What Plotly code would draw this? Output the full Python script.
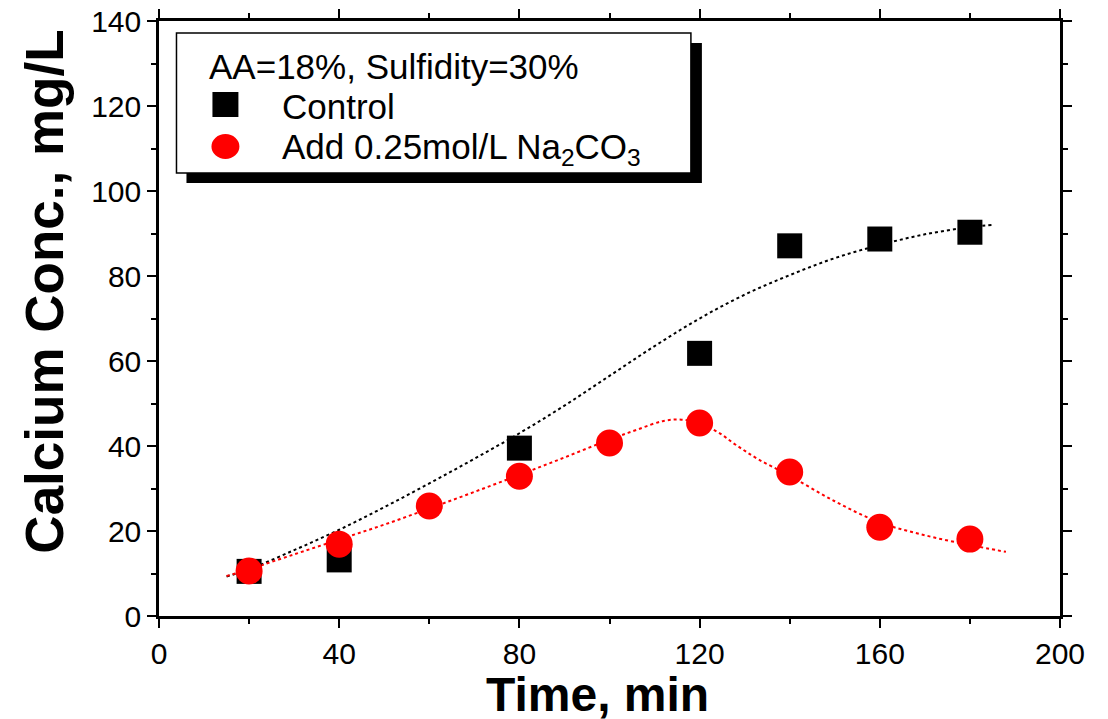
import plotly.graph_objects as go

# ---- data ----
time_control = [20, 40, 80, 120, 140, 160, 180]
conc_control = [10.5, 13.2, 39.5, 61.8, 87.1, 88.7, 90.3]

time_na2co3 = [20, 40, 60, 80, 100, 120, 140, 160, 180]
conc_na2co3 = [10.6, 16.9, 25.9, 32.9, 40.7, 45.4, 33.9, 20.9, 18.1]

fit_control_x = [15, 20, 30, 40, 50, 60, 70, 80, 90, 100, 110, 120, 130, 140, 150, 160, 170, 180, 185]
fit_control_y = [9.3, 11.0, 15.5, 20.3, 25.6, 31.2, 37.0, 43.0, 49.5, 56.5, 63.5, 70.0, 75.6, 80.2, 84.2, 87.3, 89.8, 91.5, 92.0]

fit_na2co3_x = [15, 20, 30, 40, 50, 60, 70, 80, 90, 100, 106, 112, 116, 120, 124, 128, 133, 140, 150, 160, 170, 180, 188]
fit_na2co3_y = [9.4, 11.0, 14.5, 18.0, 21.5, 25.3, 29.2, 33.2, 37.3, 41.5, 43.8, 45.9, 46.2, 45.3, 43.3, 40.3, 36.9, 33.0, 27.0, 22.0, 19.0, 16.7, 15.1]

x_ticks = [0, 40, 80, 120, 160, 200]
y_ticks = [0, 20, 40, 60, 80, 100, 120, 140]

legend_title = "AA=18%, Sulfidity=30%"
legend_names = ["Control", "Add 0.25mol/L Na<sub>2</sub>CO<sub>3</sub>"]

# ---- layout geometry (target pixels in the screenshot) ----
OFF = 8  # page body margin
W, H = 1108 - OFF, 719 - OFF
L, R, T, B = 158.5, 1060.5, 21, 616
FONT = "Arial, Liberation Sans, sans-serif"


def px(x):
    return (x - L) / (R - L)


def py(y):
    return (B - y) / (B - T)


fig = go.Figure()

fig.add_trace(go.Scatter(x=fit_control_x, y=fit_control_y, mode="lines",
                         line=dict(color="black", width=2, dash="dot", shape="spline"),
                         showlegend=False, hoverinfo="skip"))
fig.add_trace(go.Scatter(x=fit_na2co3_x, y=fit_na2co3_y, mode="lines",
                         line=dict(color="#ff0000", width=2, dash="dot", shape="spline"),
                         showlegend=False, hoverinfo="skip"))
fig.add_trace(go.Scatter(x=time_control, y=conc_control, mode="markers", name="Control",
                         marker=dict(symbol="square", size=25, color="black", line=dict(width=0)),
                         showlegend=False))
fig.add_trace(go.Scatter(x=time_na2co3, y=conc_na2co3, mode="markers", name="Na2CO3",
                         marker=dict(symbol="circle", size=27, color="#ff0000", line=dict(width=0)),
                         showlegend=False))

axis_common = dict(
    showline=True, linecolor="black", linewidth=2.5, mirror="ticks",
    ticks="outside", ticklen=9, tickwidth=2, tickcolor="black",
    showgrid=False, zeroline=False, automargin=False, ticklabeloverflow="allow",
    tickfont=dict(family=FONT, size=30, color="black"),
)

fig.update_xaxes(range=[0, 200], tickvals=x_ticks,
                 minor=dict(dtick=20, ticks="outside", ticklen=5, tickwidth=2, tickcolor="black"),
                 **axis_common)
fig.update_yaxes(range=[0, 140], tickvals=y_ticks,
                 minor=dict(dtick=10, ticks="outside", ticklen=5, tickwidth=2, tickcolor="black"),
                 **axis_common)

shapes = []
# legend shadow
shapes.append(dict(type="rect", xref="paper", yref="paper",
                   x0=px(186), x1=px(702), y0=py(43), y1=py(183),
                   fillcolor="black", line=dict(width=0), layer="above"))
# legend box
shapes.append(dict(type="rect", xref="paper", yref="paper",
                   x0=px(176), x1=px(691), y0=py(33), y1=py(173),
                   fillcolor="white", line=dict(color="black", width=1.5), layer="above"))
# legend symbols
shapes.append(dict(type="rect", xref="paper", yref="paper",
                   x0=px(212), x1=px(238), y0=py(92), y1=py(117),
                   fillcolor="black", line=dict(width=0), layer="above"))
shapes.append(dict(type="circle", xref="paper", yref="paper",
                   x0=px(211), x1=px(239), y0=py(134), y1=py(159),
                   fillcolor="#ff0000", line=dict(width=0), layer="above"))

annotations = [
    dict(text=legend_title, xref="paper", yref="paper", x=px(207), y=py(67),
         xanchor="left", yanchor="middle", showarrow=False,
         font=dict(family=FONT, size=35, color="black")),
    dict(text=legend_names[0], xref="paper", yref="paper", x=px(280), y=py(106),
         xanchor="left", yanchor="middle", showarrow=False,
         font=dict(family=FONT, size=35, color="black")),
    dict(text=legend_names[1], xref="paper", yref="paper", x=px(280), y=py(149),
         xanchor="left", yanchor="middle", showarrow=False,
         font=dict(family=FONT, size=35, color="black")),
    dict(text="<b>Time, min</b>", xref="paper", yref="paper", x=px(597), y=py(694),
         xanchor="center", yanchor="middle", showarrow=False,
         font=dict(family=FONT, size=48, color="black")),
    dict(text="<b>Calcium Conc., mg/L</b>", xref="paper", yref="paper", x=px(43), y=py(292),
         xanchor="center", yanchor="middle", showarrow=False, textangle=-90,
         font=dict(family=FONT, size=53, color="black")),
]

fig.update_layout(
    width=W, height=H,
    margin=dict(l=L - OFF, r=1108 - R, t=T - OFF, b=719 - B, pad=0, autoexpand=False),
    plot_bgcolor="white", paper_bgcolor="white",
    shapes=shapes, annotations=annotations,
    showlegend=False,
)

fig.write_html("out.html")
